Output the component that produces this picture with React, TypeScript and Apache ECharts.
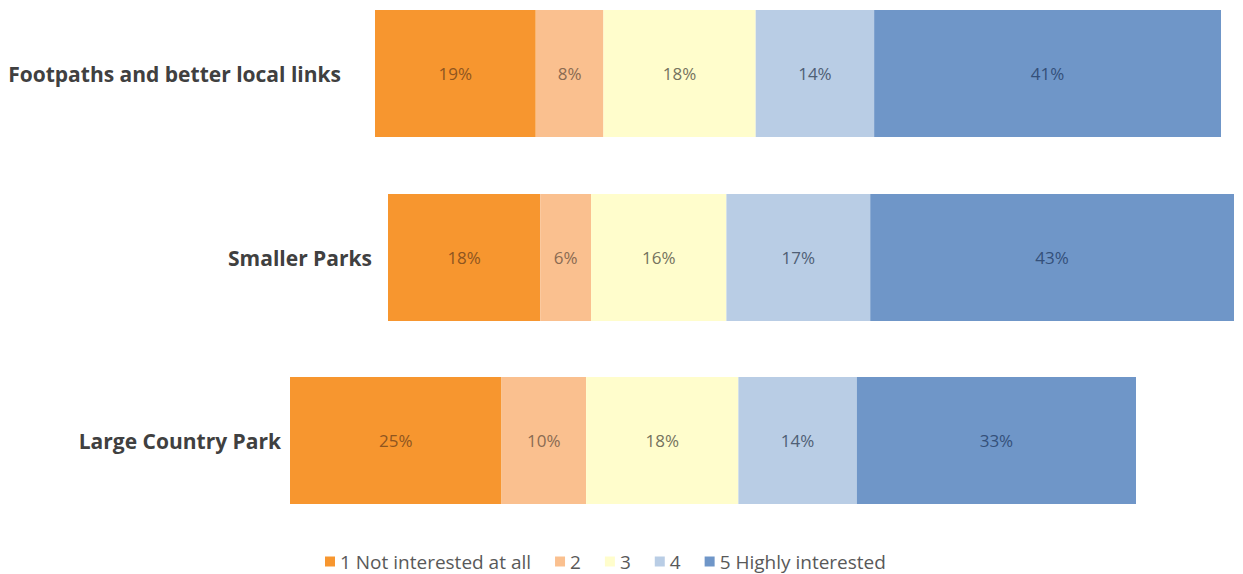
import React, { useEffect, useRef } from "react";
import * as echarts from "echarts";

// Survey rows, top to bottom
const categories = ["Footpaths and better local links", "Smaller Parks", "Large Country Park"];

// Response levels
const levelNames = ["1 Not interested at all", "2", "3", "4", "5 Highly interested"];

// Share of respondents per level (%), one value per row
const notInterested = [19, 18, 25];
const level2 = [8, 6, 10];
const level3 = [18, 16, 18];
const level4 = [14, 17, 14];
const highlyInterested = [41, 43, 33];

const levelValues = [notInterested, level2, level3, level4, highlyInterested];

const fillColors = ["#F7962F", "#FAC08F", "#FFFDCC", "#B9CDE5", "#6F96C8"];
const labelColors = ["#8E5520", "#8A6B52", "#75735E", "#4F5F75", "#34507A"];

// Each row sits in its own grid: left edge, top, and gap to its name
const rowLayout = [
  { left: 375, top: 10, labelGap: 34 },
  { left: 388, top: 194, labelGap: 16 },
  { left: 290, top: 377, labelGap: 9 },
];
const rowWidth = 846;
const rowHeight = 127;

export default function App() {
  const ref = useRef<HTMLDivElement>(null);

  useEffect(() => {
    if (!ref.current) return;
    const chart = echarts.init(ref.current, null, { renderer: "svg" });

    const grid = rowLayout.map((r) => ({
      left: r.left,
      top: r.top,
      width: rowWidth,
      height: rowHeight,
      containLabel: false,
    }));

    const xAxis = rowLayout.map((_, i) => ({
      type: "value",
      gridIndex: i,
      min: 0,
      max: 100,
      show: false,
    }));

    const yAxis = rowLayout.map((r, i) => ({
      type: "category",
      gridIndex: i,
      data: [categories[i]],
      axisLine: { show: false },
      axisTick: { show: false },
      axisLabel: {
        margin: r.labelGap,
        fontFamily: "Open Sans",
        fontWeight: "bold",
        fontSize: 21,
        color: "#404040",
      },
    }));

    const series: any[] = [];
    rowLayout.forEach((_, row) => {
      levelValues.forEach((vals, k) => {
        series.push({
          type: "bar",
          name: levelNames[k],
          xAxisIndex: row,
          yAxisIndex: row,
          stack: "row" + row,
          barWidth: "100%",
          data: [vals[row]],
          itemStyle: { color: fillColors[k] },
          label: {
            show: true,
            position: "inside",
            formatter: "{c}%",
            fontFamily: "Open Sans",
            fontSize: 17,
            color: labelColors[k],
          },
        });
      });
    });

    chart.setOption({
      animation: false,
      backgroundColor: "#FFFFFF",
      grid,
      xAxis,
      yAxis,
      legend: {
        data: levelNames,
        top: 547,
        left: 320,
        icon: "rect",
        itemWidth: 10,
        itemHeight: 10,
        itemGap: 24,
        textStyle: { fontFamily: "Open Sans", fontSize: 19, color: "#595959" },
      },
      series,
    });

    return () => chart.dispose();
  }, []);

  return (
    <div
      ref={ref}
      style={{ position: "fixed", left: 0, top: 0, width: 1243, height: 574 }}
    />
  );
}
